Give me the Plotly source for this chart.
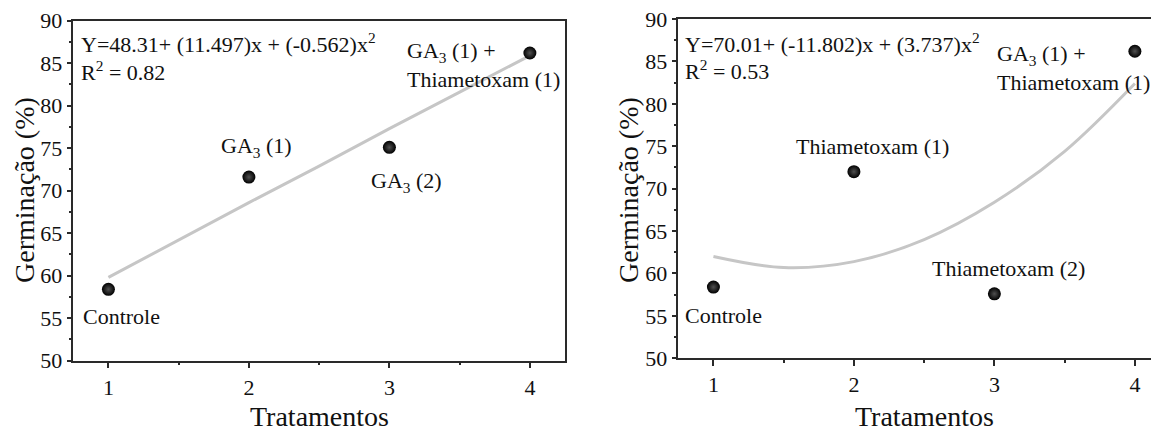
import plotly.graph_objects as go

# ---------------- data ----------------
tratamentos = [1, 2, 3, 4]
germ_ga3 = [58.4, 71.6, 75.1, 86.2]
germ_thia = [58.4, 72.0, 57.6, 86.2]

fit_x = [1, 1.5, 2, 2.5, 3, 3.5, 4]
fit_ga3 = [59.8, 64.2, 68.6, 72.9, 77.3, 81.6, 85.9]
fit_thia = [62.0, 60.7, 61.4, 64.0, 68.4, 74.4, 82.4]

labels_ga3 = ["Controle", "GA<sub>3</sub> (1)", "GA<sub>3</sub> (2)",
              "GA<sub>3</sub> (1) +<br>Thiametoxam (1)"]
labels_thia = ["Controle", "Thiametoxam (1)", "Thiametoxam (2)",
               "GA<sub>3</sub> (1) +<br>Thiametoxam (1)"]
eq_ga3 = "Y=48.31+ (11.497)x + (-0.562)x<sup>2</sup>"
r2_ga3 = "R<sup>2</sup> = 0.82"
eq_thia = "Y=70.01+ (-11.802)x + (3.737)x<sup>2</sup>"
r2_thia = "R<sup>2</sup> = 0.53"
x_title = "Tratamentos"
y_title = "Germinação (%)"
x_ticks = [1, 2, 3, 4]

# ---------------- figure ----------------
# page body has an 8px default margin; size the figure so it fills the window
OFF = 8
W, H = 1159 - OFF, 432 - OFF
FONT = "Liberation Serif, Times New Roman, serif"
AX = "#2a2a2a"
FIT = "#c6c6c6"


def px(x):
    return (x - OFF) / W


def py(y):
    return 1 - (y - OFF) / H


fig = go.Figure()

marker = dict(size=13, color="black",
              gradient=dict(type="radial", color="#505050"),
              line=dict(width=0))

fig.add_trace(go.Scatter(x=fit_x, y=fit_ga3, mode="lines", line=dict(color=FIT, width=3),
                         xaxis="x", yaxis="y", hoverinfo="skip"))
fig.add_trace(go.Scatter(x=tratamentos, y=germ_ga3, mode="markers", marker=marker,
                         xaxis="x", yaxis="y"))
fig.add_trace(go.Scatter(x=fit_x, y=fit_thia, mode="lines",
                         line=dict(color=FIT, width=3, shape="spline"),
                         xaxis="x2", yaxis="y2", hoverinfo="skip"))
fig.add_trace(go.Scatter(x=tratamentos, y=germ_thia, mode="markers", marker=marker,
                         xaxis="x2", yaxis="y2"))

xcommon = dict(tickvals=x_ticks, ticks="outside", ticklen=6, tickwidth=1.5, tickcolor=AX,
               showline=True, linewidth=1.5, linecolor=AX, showgrid=False, zeroline=False,
               tickfont=dict(family=FONT, size=22, color="#111"), automargin=False,
               ticklabeloverflow="allow",
               minor=dict(tickvals=[1.5, 2.5, 3.5], ticks="outside", ticklen=3,
                          tickwidth=1.5, tickcolor=AX, showgrid=False),
               fixedrange=True)
ycommon = dict(range=[50, 90], dtick=5, tick0=50, ticks="outside", ticklen=5, tickwidth=1.5,
               tickcolor=AX, showline=True, linewidth=1.5, linecolor=AX, showgrid=False,
               zeroline=False, tickfont=dict(family=FONT, size=22, color="#111"),
               automargin=False, ticklabeloverflow="allow",
               minor=dict(dtick=2.5, tick0=50, ticks="outside", ticklen=3, tickwidth=1.5,
                          tickcolor=AX, showgrid=False),
               fixedrange=True)

fig.update_layout(
    width=W, height=H,
    margin=dict(l=0, r=0, t=0, b=0, pad=0),
    paper_bgcolor="white", plot_bgcolor="white",
    showlegend=False,
    font=dict(family=FONT, color="#111"),
    xaxis=dict(domain=[px(73.3), px(565)], range=[0.75, 4.25], mirror=True, anchor="y",
               **xcommon),
    yaxis=dict(domain=[py(360.7), py(20.7)], mirror=True, anchor="x", **ycommon),
    xaxis2=dict(domain=[px(678.3), 1.0], range=[0.75, 4.1716], mirror=True, anchor="y2",
                **xcommon),
    yaxis2=dict(domain=[py(358.3), py(19)], mirror=False, anchor="x2", **ycommon),
)

ann = []


def add(text, x, y, xanchor="left", size=22, angle=0, align="left"):
    ann.append(dict(text=text, x=px(x), y=py(y), xref="paper", yref="paper",
                    xanchor=xanchor, yanchor="middle", showarrow=False, align=align,
                    textangle=angle, font=dict(family=FONT, size=size, color="#111")))


# left panel texts
add(eq_ga3, 79, 43)
add(r2_ga3, 79, 71)
add(labels_ga3[0], 81, 316.7)
add(labels_ga3[1], 256, 146.7, xanchor="center")
add(labels_ga3[2], 406, 181.7, xanchor="center")
add(labels_ga3[3], 405, 65)
add(x_title, 319, 416, xanchor="center", size=28)
add(y_title, 24, 190, xanchor="center", size=28, angle=-90)

# right panel texts
add(eq_thia, 683, 43)
add(r2_thia, 683, 70)
add(labels_thia[0], 683, 315)
add(labels_thia[1], 872, 146.7, xanchor="center")
add(labels_thia[2], 1008, 268.3, xanchor="center")
add(labels_thia[3], 995, 68)
add(x_title, 924, 416, xanchor="center", size=28)
add(y_title, 628, 190, xanchor="center", size=28, angle=-90)

fig.update_layout(annotations=ann)

fig.write_html("out.html")
